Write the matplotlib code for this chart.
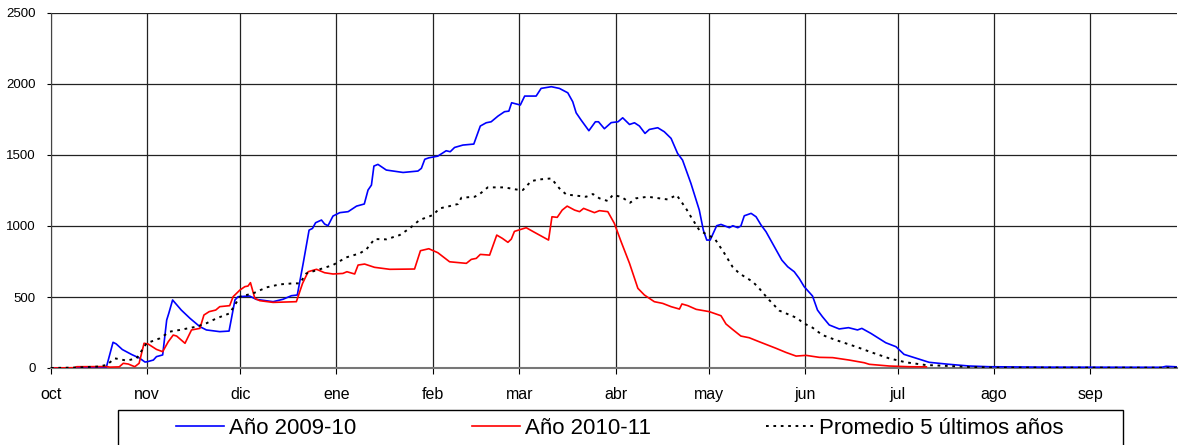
import matplotlib
matplotlib.use("Agg")
import matplotlib.pyplot as plt
from matplotlib.patches import Rectangle

plt.rcParams['font.family'] = ['Liberation Sans', 'DejaVu Sans']

# Month labels (tick positions are days since 1 Oct)
month_labels = ['oct', 'nov', 'dic', 'ene', 'feb', 'mar', 'abr', 'may', 'jun', 'jul', 'ago', 'sep']
month_start_days = [0, 31, 61, 92, 123, 151, 182, 212, 243, 273, 304, 335]

# Año 2009-10 (blue)
blue_days = [0, 17.8, 20, 21, 23, 26, 28.5, 30.3, 31, 33, 34, 36, 37.3, 38, 39.2, 42, 44.8, 48, 50.1, 54.4,
             57.4, 59.3, 60.3, 64, 66.2, 71.6, 74.8, 77.5, 79.4, 81.3, 83.2, 84.3, 85.3, 87.2, 88.2, 89.3,
             90.9, 93.1, 95.8, 98.5, 101, 102.2, 103.3, 104.1, 105.4, 108.1, 113.5, 118.3, 119.4, 120.5,
             121.8, 124.7, 127.4, 128.7, 130.1, 132.8, 136.3, 138.4, 140.3, 141.9, 144.1, 146.2, 147.6,
             148.5, 150, 151.3, 152.7, 156.4, 158, 161.3, 163.9, 166.6, 168.2, 169.3, 170.9, 173.4, 175.5,
             176.5, 178.4, 180.6, 182.8, 184.3, 186.5, 188.1, 189.7, 191.5, 192.9, 195.6, 197.7, 199.9,
             202, 203.6, 206.3, 209, 210.3, 211.4, 212.5, 214.6, 216, 218.7, 219.8, 221.4, 222.4, 223.5,
             225.7, 227.3, 228.9, 230.5, 232.6, 235.6, 237.5, 239.6, 241.2, 242.8, 245.5, 247.1, 248.7,
             250.9, 254.1, 257.1, 260, 261.4, 264.3, 269.1, 272.4, 275, 278.3, 283.1, 289.5, 296, 302.4,
             320, 358, 359.5, 363]
blue_vals = [0, 2, 181, 170, 130, 95, 70, 42, 44, 56, 80, 92, 338, 387, 479, 408, 350, 291, 268, 256,
             260, 479, 502, 507, 483, 467, 484, 509, 514, 737, 971, 983, 1023, 1042, 1014, 1002,
             1070, 1094, 1101, 1140, 1155, 1253, 1288, 1422, 1434, 1394, 1377, 1387, 1406, 1470,
             1480, 1492, 1530, 1523, 1553, 1570, 1577, 1704, 1727, 1734, 1774, 1805, 1809,
             1868, 1859, 1852, 1915, 1915, 1969, 1981, 1969, 1938, 1875, 1797, 1746, 1671, 1734,
             1734, 1685, 1728, 1734, 1762, 1715, 1727, 1704, 1652, 1680, 1692, 1664, 1617,
             1511, 1464, 1300, 1112, 971, 901, 901, 1002, 1011, 988, 1002, 988, 1000, 1072,
             1089, 1065, 1007, 960, 878, 760, 713, 678, 631, 573, 507, 408, 361,
             303, 275, 284, 268, 279, 244, 178, 150, 96, 73, 40, 26, 14, 9,
             6, 5, 12, 8]

# Año 2010-11 (red)
red_days = [0, 7.5, 8.3, 17.9, 19, 22, 23.3, 24.9, 27, 28.4, 30, 31.3, 34, 36, 37.8, 39.4, 40.5, 43.2,
            45.3, 48, 49.3, 51, 53.1, 54.4, 57.6, 58.7, 60.9, 62.5, 63.5, 64.3, 65.7, 67.3, 71.6, 79.1,
            81.1, 82.9, 85.6, 88.2, 90.9, 94.1, 95.4, 97.9, 99, 101.1, 104.3, 109.2, 117.2, 119.1, 121.8,
            124.7, 128.5, 133.9, 135.5, 137.1, 138.4, 141.4, 143.7, 145.5, 147.3, 148.4, 149.4, 153.2,
            155.9, 160.4, 161.5, 163.2, 164.8, 166.4, 168.8, 170.4, 171.7, 175.2, 176.8, 179.5, 181.6,
            183.8, 186.5, 189.2, 191.3, 194.5, 197.2, 199.9, 202.6, 203.4, 205.3, 208, 212.2, 216, 217.6,
            219.7, 222.4, 225.1, 228.3, 233.7, 236.9, 240.2, 243.4, 247.7, 252, 257.3, 262.2, 263.8,
            270.2, 276.6, 282.2]
red_vals = [0, 2, 9, 10, 6, 8, 33, 28, 9, 33, 174, 169, 131, 115, 185, 232, 225, 174,
            268, 279, 373, 397, 408, 432, 439, 502, 549, 573, 577, 601, 491, 474, 462, 467,
            596, 678, 695, 671, 662, 666, 678, 662, 725, 732, 709, 695, 697, 826, 840,
            812, 748, 737, 765, 772, 800, 795, 936, 913, 885, 908, 962, 988,
            955, 901, 1065, 1061, 1112, 1140, 1112, 1101, 1124, 1094, 1108, 1101, 1019,
            889, 737, 561, 514, 467, 455, 432, 415, 451, 439, 413, 397, 368, 310,
            272, 225, 213, 185, 139, 110, 84, 89, 75, 73, 56, 37, 26,
            14, 9, 8]

# Promedio 5 últimos años (black dotted)
avg_days = [0, 8, 15, 17.9, 20.6, 24.4, 27.6, 30.8, 35.1, 38.3, 41.5, 46.9, 50.1, 53.4, 57.6, 60.9,
            65.2, 69.5, 73.8, 78, 80.2, 82.3, 86.6, 90.9, 95.2, 99.5, 101.7, 104.3, 108.1, 112.4, 115.6,
            118.8, 123.1, 125.3, 128.5, 131.2, 132.3, 136.6, 138.2, 140.8, 146.2, 150, 152.1, 154.8,
            157.5, 161.3, 163.9, 166.1, 170.4, 172.5, 174.7, 176.8, 179.5, 181.1, 183.8, 186.7, 188.6,
            192.4, 196.1, 198.8, 201.7, 204.7, 206.3, 209, 211.7, 213.9, 217.1, 219.7, 221.9, 226.2,
            228.3, 231, 234.8, 236.9, 240.7, 242.3, 245.5, 248.7, 253, 259.5, 264.8, 270.2, 275.6, 282,
            289.5, 296, 305, 363]
avg_vals = [0, 3, 10, 21, 68, 52, 68, 174, 209, 256, 268, 291, 315, 350, 385, 502,
            526, 568, 589, 596, 596, 666, 695, 725, 779, 807, 836, 908, 906, 936, 983,
            1042, 1077, 1124, 1140, 1155, 1199, 1206, 1225, 1272, 1272, 1257, 1253, 1316,
            1328, 1335, 1265, 1222, 1211, 1206, 1225, 1195, 1176, 1218, 1206, 1164, 1195,
            1206, 1195, 1187, 1218, 1124, 1065, 971, 936, 913, 807, 713, 666, 608,
            561, 491, 404, 385, 350, 319, 284, 232, 197, 150, 108, 68, 40, 21,
            14, 7, 3, 2]

series_labels = ['Año 2009-10', 'Año 2010-11', 'Promedio 5 últimos años']

W, H = 1179, 445
fig = plt.figure(figsize=(W / 100, H / 100), dpi=100)
ax = fig.add_axes([51 / W, 1 - 368 / H, (1177 - 51) / W, 355 / H])

ax.plot(blue_days, blue_vals, color='#0000ff', lw=1.2, label=series_labels[0], zorder=3)
ax.plot(red_days, red_vals, color='#ff0000', lw=1.2, label=series_labels[1], zorder=3)
ax.plot(avg_days, avg_vals, color='black', lw=1.4, linestyle=(0, (1.4, 2.4)),
        label=series_labels[2], zorder=4)

ax.set_xlim(0, 363)
ax.set_ylim(0, 2500)
ax.set_yticks([0, 500, 1000, 1500, 2000, 2500])
ax.set_xticks(month_start_days)
ax.set_xticklabels(month_labels, fontsize=11.5)
ax.tick_params(axis='y', labelsize=9.5, length=3, width=0.8, pad=8)
ax.tick_params(axis='x', length=4, width=0.8, pad=10)

ax.grid(True, color='#222222', lw=0.9)
ax.set_axisbelow(True)
ax.spines['top'].set_visible(False)
ax.spines['right'].set_visible(False)
ax.spines['left'].set_color('#444444')
ax.spines['bottom'].set_color('#777777')
ax.spines['bottom'].set_linewidth(1.5)

# Legend frame (extends past the bottom edge of the image)
frame = Rectangle((117.5 / W, -0.1), (1123 - 117.5) / W, 0.1 + 1 - 410 / H,
                  transform=fig.transFigure, facecolor='white', edgecolor='black',
                  lw=1.0, clip_on=False, zorder=5)
fig.patches.append(frame)

fs = 16
leg = fig.legend(loc='center left', bbox_to_anchor=(176 / W, 1 - 428.5 / H),
                 ncol=3, fontsize=fs, frameon=False,
                 handlelength=48 / (fs * 100 / 72), handletextpad=5.3 / (fs * 100 / 72),
                 columnspacing=115 / (fs * 100 / 72), borderpad=0, borderaxespad=0)
leg.set_zorder(6)

fig.savefig('out.png', dpi=100)
